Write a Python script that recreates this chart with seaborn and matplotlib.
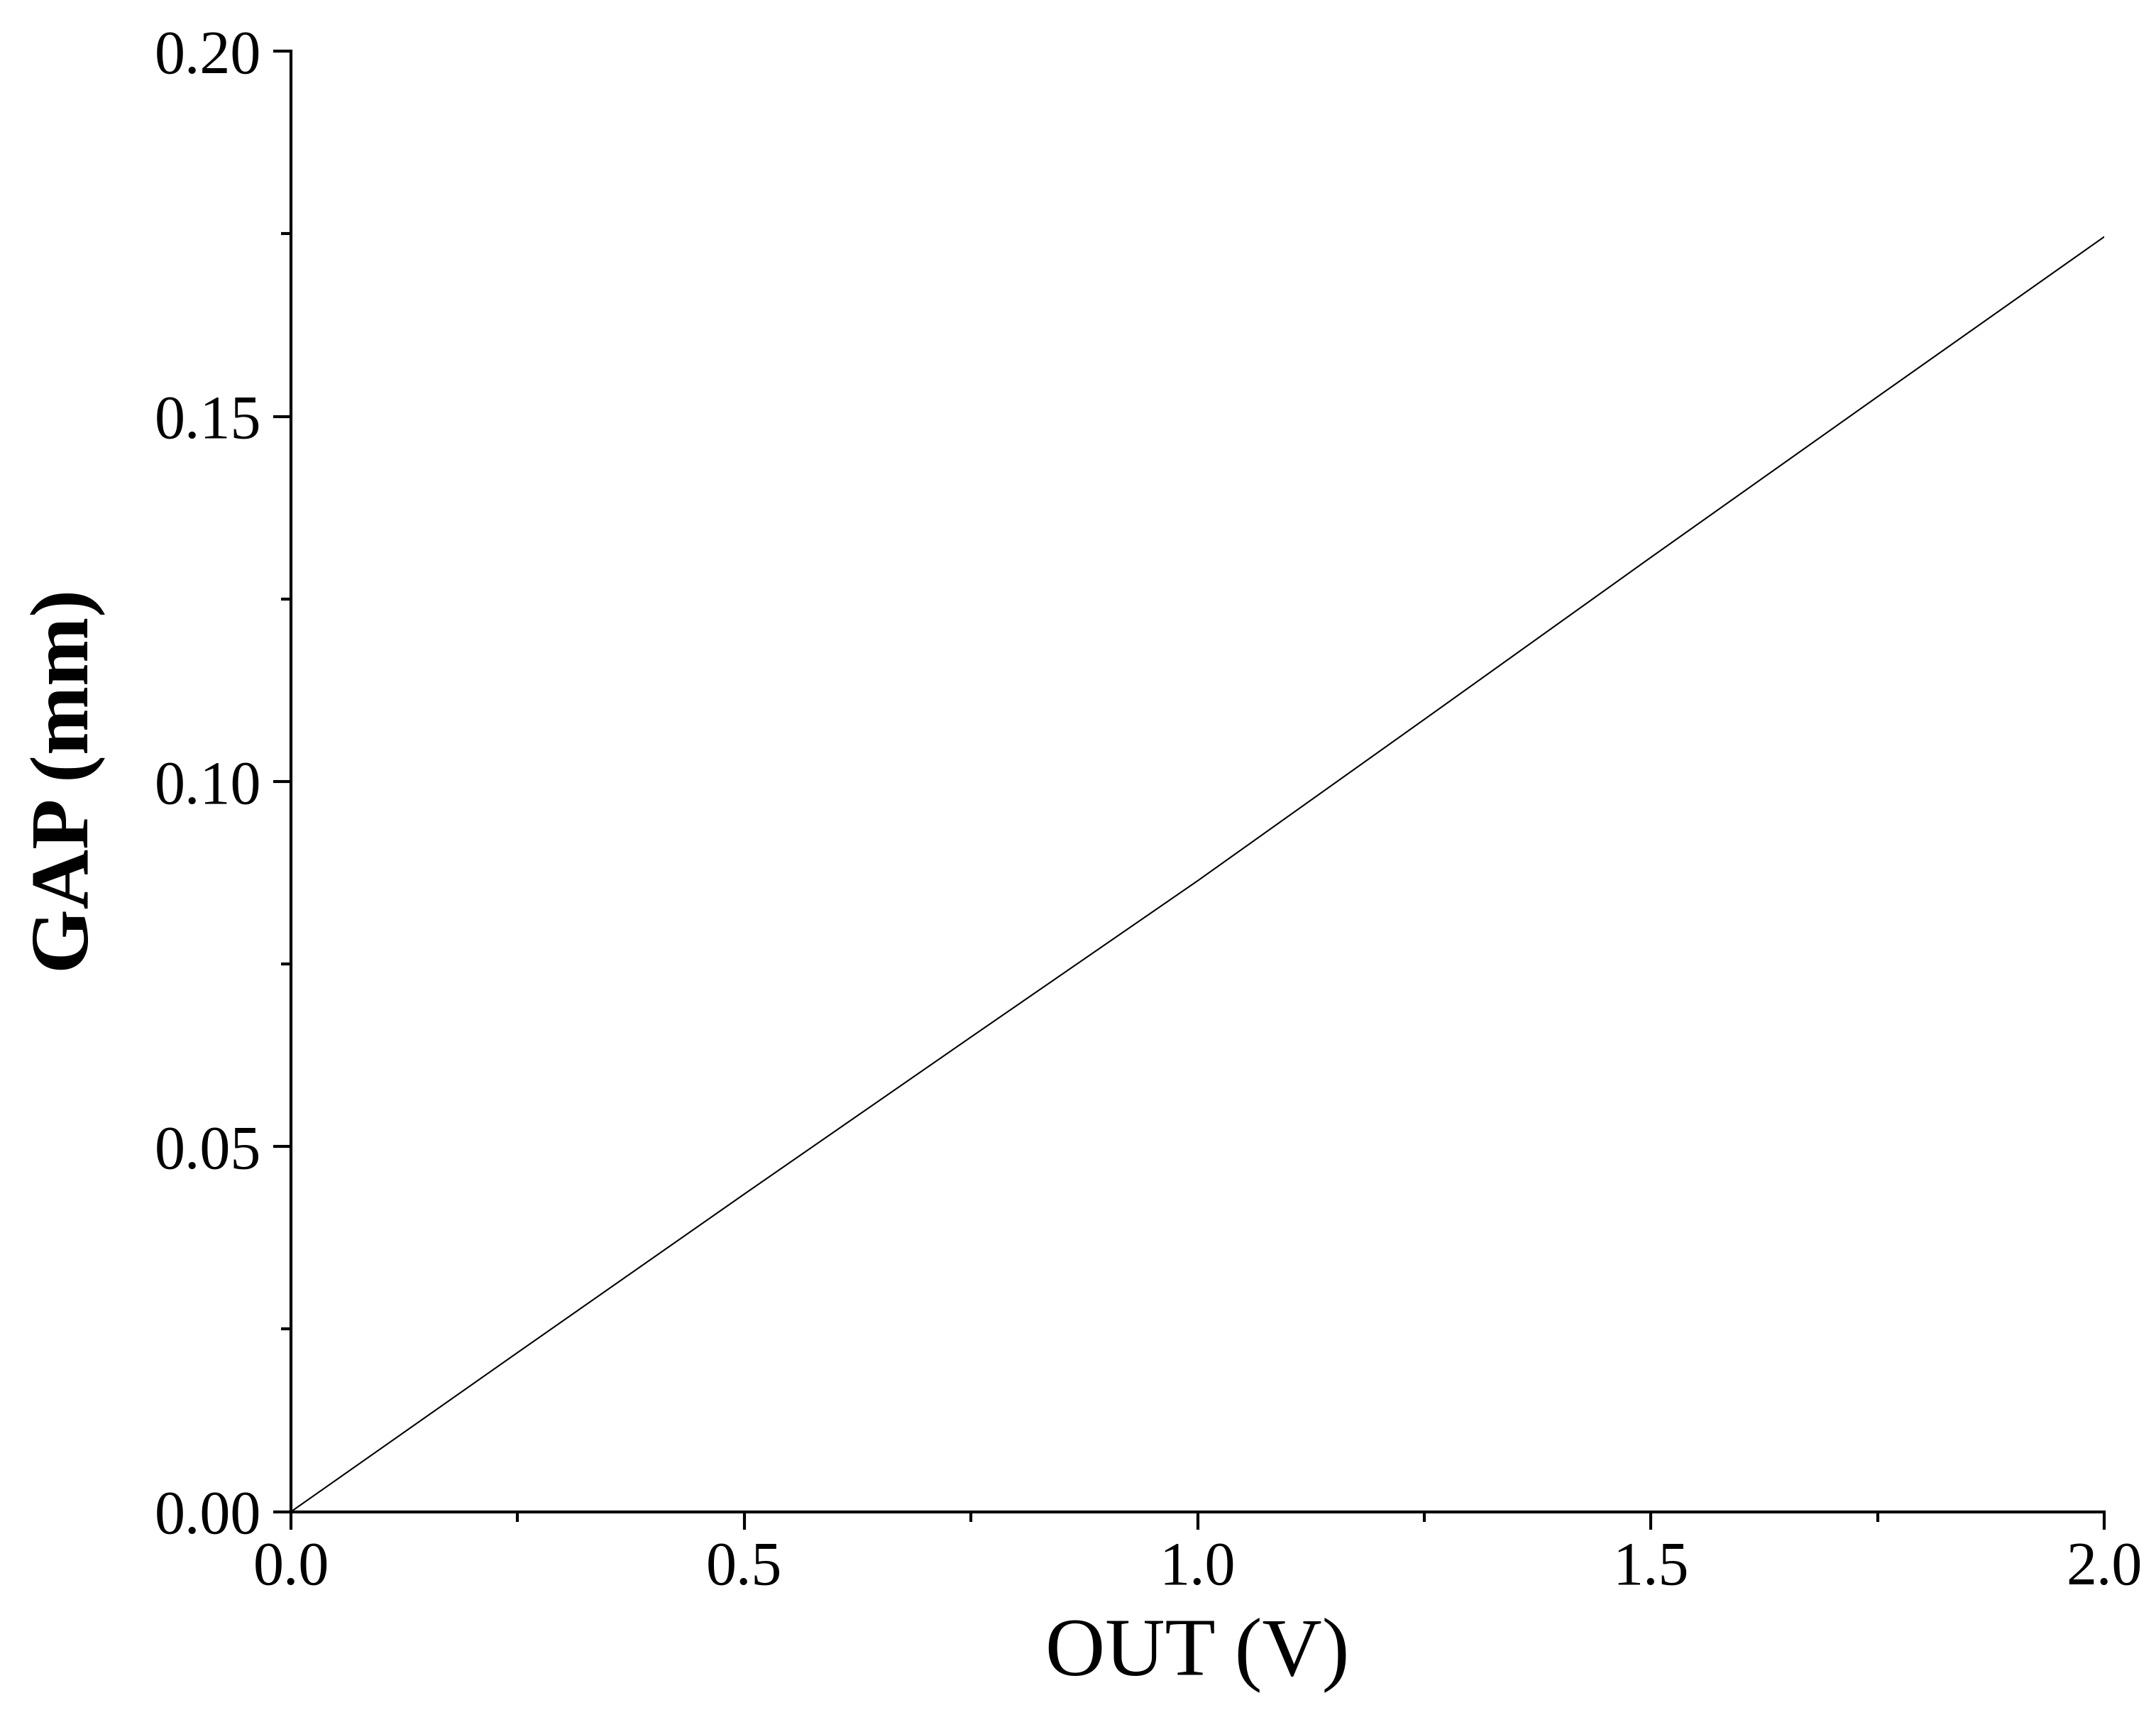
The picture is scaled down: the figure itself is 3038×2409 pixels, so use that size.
import matplotlib
matplotlib.use("Agg")
import matplotlib.pyplot as plt
import seaborn as sns
import pandas as pd
from matplotlib.ticker import MultipleLocator

out_v = [0.0, 0.25, 0.5, 0.75, 1.0, 1.25, 1.5, 1.75, 2.0]
gap_mm = [0.0, 0.0218, 0.0435, 0.0650, 0.0864, 0.1085, 0.1307, 0.1527, 0.1746]

sns.set_style("ticks")
plt.rcParams["font.family"] = ["Liberation Serif", "DejaVu Serif"]
plt.rcParams["text.color"] = "black"
plt.rcParams["axes.labelcolor"] = "black"
plt.rcParams["xtick.color"] = "black"
plt.rcParams["ytick.color"] = "black"
plt.rcParams["axes.edgecolor"] = "black"

df = pd.DataFrame({"OUT": out_v, "GAP": gap_mm})
fig = plt.figure(figsize=(30.38, 24.09), dpi=100)
ax = fig.add_axes([0.135, 0.116, 0.841, 0.854])
sns.lineplot(data=df, x="OUT", y="GAP", ax=ax, color="black", linewidth=1.5)

ax.set_xlim(0, 2.0)
ax.set_ylim(0, 0.20)
ax.xaxis.set_major_locator(MultipleLocator(0.5))
ax.xaxis.set_minor_locator(MultipleLocator(0.25))
ax.yaxis.set_major_locator(MultipleLocator(0.05))
ax.yaxis.set_minor_locator(MultipleLocator(0.025))
ax.xaxis.set_major_formatter(matplotlib.ticker.FormatStrFormatter("%.1f"))
ax.yaxis.set_major_formatter(matplotlib.ticker.FormatStrFormatter("%.2f"))
ax.tick_params(which="major", length=18, width=3, labelsize=62, direction="out", pad=12)
ax.tick_params(which="minor", length=10, width=3, direction="out")
for s in ["left", "bottom"]:
    ax.spines[s].set_linewidth(3)
sns.despine(ax=ax)
ax.set_xlabel("OUT (V)", fontsize=84, labelpad=20)
ax.set_ylabel("GAP (mm)", fontsize=84, fontweight="bold", labelpad=50)

fig.savefig("out.png", dpi=100)
